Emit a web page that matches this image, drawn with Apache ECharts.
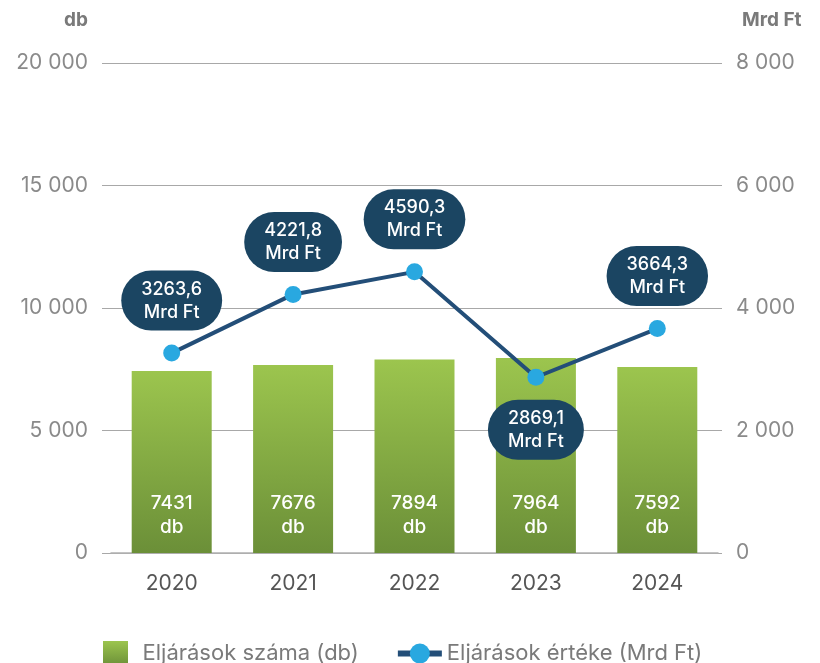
<!DOCTYPE html>
<html><head><meta charset="utf-8">
<script src="https://cdn.jsdelivr.net/npm/echarts@6/dist/echarts.min.js"></script>
<style>html,body{margin:0;padding:0;background:#fff}#c{width:820px;height:663px}</style>
</head><body><div id="c"></div>
<script>
const years = ['2020','2021','2022','2023','2024'];
const counts = [7431, 7676, 7894, 7964, 7592];
const values = [3263.6, 4221.8, 4590.3, 2869.1, 3664.3];
const labelBelow = [false, false, false, true, false];
const leftTicks = [0, 5000, 10000, 15000, 20000];
const rightTicks = [0, 2000, 4000, 6000, 8000];

const fmtNum = v => String(v).replace(/\B(?=(\d{3})+(?!\d))/g, ' ');
const fmtDec = v => v.toFixed(1).replace('.', ',');
const font = 'Inter, Roboto, sans-serif';
const chart = echarts.init(document.getElementById('c'));
const gridTop = 63, gridBottom = 110;
chart.setOption({
  animation: false,
  textStyle: {fontFamily: font},
  grid: [
    {left: 111, right: 102, top: gridTop, bottom: gridBottom},
    {left: 102, right: 98, top: gridTop, bottom: gridBottom}
  ],
  legend: {
    top: 636, left: 98, itemGap: 36, itemWidth: 44, itemHeight: 25,
    textStyle: {color: '#7a7a7a', fontSize: 22, fontFamily: font},
    data: [
      {name: 'Eljárások száma (db)', icon: 'path://M0,0h25v25h-25z', itemStyle: {color: new echarts.graphic.LinearGradient(0, 0, 0, 1, [
       {offset: 0, color: '#9cc54e'}, {offset: 1, color: '#6b8f38'}])}},
      {name: 'Eljárások értéke (Mrd Ft)', lineStyle: {width: 6, color: '#234e78'}}
    ]
  },
  xAxis: [
    {type: 'category', data: years, gridIndex: 0,
     axisLine: {lineStyle: {color: '#b0b0b0', width: 1.5}}, axisTick: {show: false},
     axisLabel: {color: '#555', fontSize: 21, margin: 20}},
    {type: 'category', data: years, gridIndex: 1, show: false}
  ],
  yAxis: [
    {type: 'value', gridIndex: 0, min: 0, max: 20000, interval: 5000,
     axisLabel: {show: false}, splitLine: {show: false}, axisLine: {show: false}},
    {type: 'value', gridIndex: 0, min: 0, max: 8000, interval: 2000, position: 'right',
     axisLabel: {show: false}, splitLine: {show: false}, axisLine: {show: false}},
    {type: 'value', gridIndex: 1, min: 0, max: 20000, interval: 5000,
     name: 'db', nameGap: 33, nameTextStyle: {color: '#7a7a7a', fontSize: 19, fontWeight: 'bold', align: 'right', padding: [0, 14, 0, 0]},
     axisLine: {show: false}, axisTick: {show: false},
     axisLabel: {color: '#8a8a8a', fontSize: 21, margin: 14, formatter: fmtNum},
     splitLine: {lineStyle: {color: '#a8a8a8', width: 1.2}}},
    {type: 'value', gridIndex: 1, min: 0, max: 8000, interval: 2000, position: 'right',
     name: 'Mrd Ft', nameGap: 33, nameTextStyle: {color: '#7a7a7a', fontSize: 19, fontWeight: 'bold', align: 'left', padding: [0, 0, 0, 20]},
     axisLine: {show: false}, axisTick: {show: false},
     axisLabel: {color: '#8a8a8a', fontSize: 21, margin: 14, formatter: fmtNum},
     splitLine: {show: false}}
  ],
  series: [
    {name: 'Eljárások száma (db)', type: 'bar', xAxisIndex: 0, yAxisIndex: 0,
     data: counts, barWidth: 80,
     itemStyle: {color: new echarts.graphic.LinearGradient(0, 0, 0, 1, [
       {offset: 0, color: '#9cc54e'}, {offset: 1, color: '#6b8f38'}])},
     label: {show: true, position: 'insideBottom', distance: 14, color: '#fff', fontSize: 19, fontWeight: 500, lineHeight: 24,
       formatter: p => p.value + '\ndb'}},
    {name: 'Eljárások értéke (Mrd Ft)', type: 'line', xAxisIndex: 0, yAxisIndex: 1,
     data: values.map((v, i) => ({value: v, label: {position: labelBelow[i] ? 'bottom' : 'top', distance: 14}})),
     lineStyle: {color: '#234e78', width: 4},
     itemStyle: {color: '#29a8e0'},
     symbol: 'circle', symbolSize: 17, z: 5,
     label: {show: true, color: '#fff', fontSize: 18, fontWeight: 500, lineHeight: 23,
       backgroundColor: '#1b4562', borderRadius: 30, padding: [7, 20],
       formatter: p => fmtDec(p.value) + '\nMrd Ft'}}
  ]
});
</script></body></html>
